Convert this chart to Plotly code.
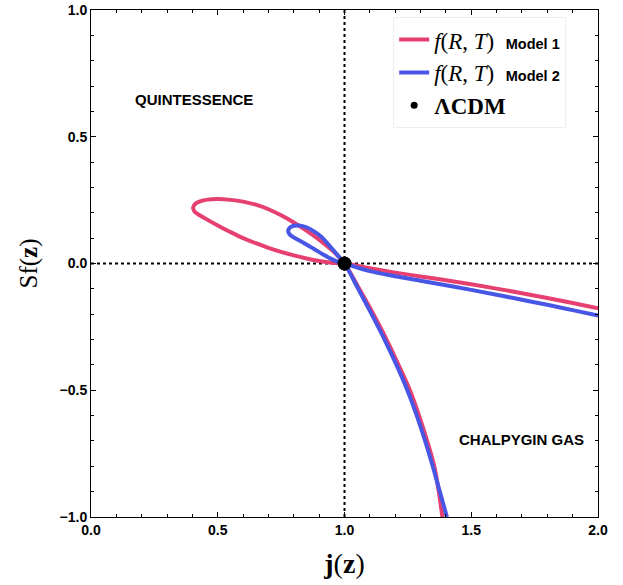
import plotly.graph_objects as go

# Model 1 trajectory in the (j, s_f) plane: lower branch -> loop -> right branch
m1_j = [1.386, 1.372, 1.354, 1.326, 1.294, 1.258, 1.213, 1.166, 1.114, 1.058, 1.0,
        0.95, 0.90, 0.85, 0.80, 0.75, 0.70, 0.65, 0.60, 0.55, 0.50, 0.46, 0.43, 0.41,
        0.403, 0.408, 0.42, 0.45, 0.50, 0.55, 0.60, 0.65, 0.70, 0.75, 0.80, 0.85,
        0.90, 0.95, 1.0,
        1.1, 1.2, 1.3, 1.4, 1.5, 1.6, 1.7, 1.8, 1.9, 2.0]
m1_s = [-1.0, -0.9, -0.8, -0.7, -0.6, -0.5, -0.4, -0.3, -0.2, -0.1, 0.0,
        0.053, 0.094, 0.130, 0.162, 0.190, 0.214, 0.232, 0.244, 0.251, 0.254, 0.252,
        0.245, 0.234, 0.220, 0.206, 0.196, 0.178, 0.150, 0.124, 0.100, 0.080, 0.062,
        0.046, 0.032, 0.020, 0.010, 0.003, 0.0,
        -0.019, -0.036, -0.051, -0.066, -0.082, -0.099, -0.117, -0.136, -0.156, -0.177]

# Model 2 trajectory
m2_j = [1.404, 1.376, 1.348, 1.318, 1.285, 1.248, 1.205, 1.158, 1.107, 1.054, 1.0,
        0.97, 0.94, 0.91, 0.88, 0.85, 0.82, 0.80, 0.785, 0.778, 0.782, 0.795,
        0.82, 0.85, 0.88, 0.91, 0.94, 0.97, 1.0,
        1.1, 1.2, 1.3, 1.4, 1.5, 1.6, 1.7, 1.8, 1.9, 2.0]
m2_s = [-1.0, -0.9, -0.8, -0.7, -0.6, -0.5, -0.4, -0.3, -0.2, -0.1, 0.0,
        0.036, 0.071, 0.104, 0.127, 0.143, 0.150, 0.149, 0.142, 0.130, 0.117, 0.106,
        0.092, 0.075, 0.057, 0.039, 0.022, 0.008, 0.0,
        -0.030, -0.050, -0.068, -0.086, -0.104, -0.123, -0.143, -0.163, -0.184, -0.205]

# LambdaCDM fixed point
lcdm_j = [1.0]
lcdm_s = [0.0]

x_ticks = [0.0, 0.5, 1.0, 1.5, 2.0]
y_ticks = [-1.0, -0.5, 0.0, 0.5, 1.0]

RED = "rgb(229,64,112)"
BLUE = "rgb(72,86,230)"
SERIF = "Liberation Serif"
SANS = "Liberation Sans"

def model_label(n):
    return ("<i>f</i>(<i>R</i>, <i>T</i>)&nbsp;&nbsp;"
            f"<span style='font-family:{SANS};font-size:14.5px'><b>Model {n}</b></span>")

fig = go.Figure()

fig.add_trace(go.Scatter(
    x=m1_j, y=m1_s, mode="lines", name=model_label(1),
    line=dict(color=RED, width=4, shape="spline", smoothing=1.0),
    legendrank=1))
fig.add_trace(go.Scatter(
    x=m2_j, y=m2_s, mode="lines", name=model_label(2),
    line=dict(color=BLUE, width=4, shape="spline", smoothing=1.0),
    legendrank=2))
# small marker carries the legend entry; the large one sits on top of it
fig.add_trace(go.Scatter(
    x=lcdm_j, y=lcdm_s, mode="markers", name="<b>ΛCDM</b>",
    marker=dict(color="black", size=7), legendrank=3))
fig.add_trace(go.Scatter(
    x=lcdm_j, y=lcdm_s, mode="markers", showlegend=False,
    marker=dict(color="black", size=14)))

# dotted reference lines through the fixed point
fig.add_hline(y=0, line=dict(color="black", width=2, dash="3px,3px"), layer="below")
fig.add_vline(x=1, line=dict(color="black", width=2, dash="3px,3px"), layer="below")

fig.add_annotation(x=0.406, y=0.645, text="<b>QUINTESSENCE</b>", showarrow=False,
                   font=dict(family=SANS, size=15, color="black"))
fig.add_annotation(x=1.70, y=-0.696, text="<b>CHALPYGIN GAS</b>", showarrow=False,
                   font=dict(family=SANS, size=15, color="black"))

axis_common = dict(
    showgrid=False, zeroline=False, showline=True, linecolor="black", linewidth=1,
    mirror="allticks", ticks="inside", ticklen=5, tickcolor="black", tickwidth=1,
    tickfont=dict(family=SANS, size=14, color="black", weight="bold"),
    tickformat=".1f", automargin=False,
    minor=dict(ticks="inside", ticklen=3, tickcolor="black", dtick=0.1, showgrid=False),
)

fig.update_xaxes(range=[0, 2], tickvals=x_ticks, **axis_common,
                 title=dict(text="<b>j</b>(<b>z</b>)", standoff=16,
                            font=dict(family=SERIF, size=28, color="black")))
fig.update_yaxes(range=[-1, 1], tickvals=y_ticks, **axis_common,
                 title=dict(text="Sf(<b>z</b>)", standoff=14,
                            font=dict(family=SERIF, size=25, color="black")))

fig.update_layout(
    width=623, height=585,
    margin=dict(l=91, r=25, t=10, b=68),
    paper_bgcolor="white", plot_bgcolor="white",
    legend=dict(x=0.596, y=0.986, xanchor="left", yanchor="top",
                bgcolor="white", bordercolor="#eeeeee", borderwidth=1,
                font=dict(family=SERIF, size=23, color="black"),
                itemwidth=30),
)

fig.write_html("out.html")
